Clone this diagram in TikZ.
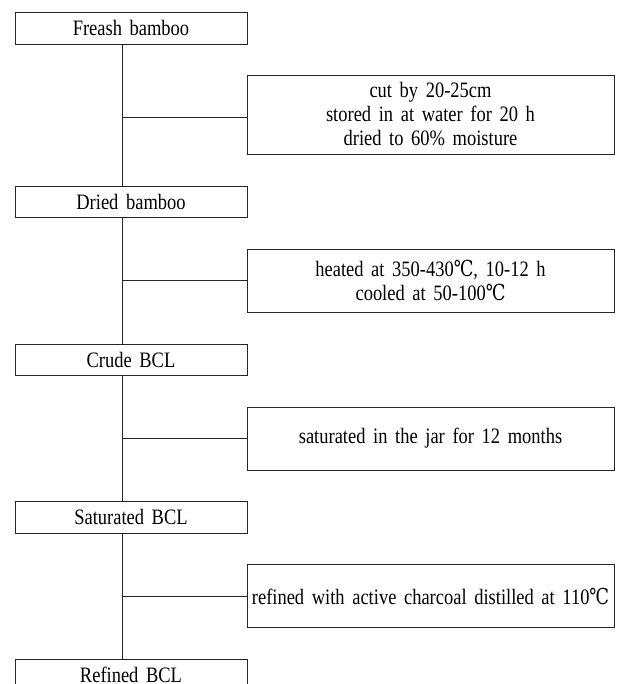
\documentclass[tikz,border=0pt]{standalone}
\usepackage{fontspec}
\setmainfont{Liberation Serif}[FakeStretch=0.84, WordSpace=1.65]
\newfontfamily\degfont{DejaVu Serif}[FakeStretch=0.8]
\newcommand{\degC}{{\degfont ℃}}
\usepackage{tikz}
\usetikzlibrary{shapes, arrows, arrows.meta}
\tikzstyle{product} = [rectangle, draw=black!85, line width=0.9pt, fill=white,
    minimum width=232pt, minimum height=31.5pt, inner sep=0pt, text centered]
\tikzstyle{process} = [rectangle, draw=black!85, line width=0.9pt, fill=white,
    minimum width=367pt, minimum height=63pt, inner sep=2pt, align=center]
\tikzstyle{line} = [draw=black!85, line width=0.9pt]

\begin{document}
\begin{tikzpicture}[x=1pt, y=-1pt, node distance = 157.7pt,
    font=\fontsize{22pt}{24pt}\selectfont]
    \useasboundingbox (0,0) rectangle (616,684);
    % Nodes
    \node [product] at (131,28.25) (fresh) {Freash bamboo};
    \node [product, below of=fresh, node distance=173.75pt] (dried) {Dried bamboo};
    \node [product, below of=dried] (crude) {Crude BCL};
    \node [product, below of=crude] (saturated) {Saturated BCL};
    \node [product, below of=saturated] (refined) {Refined BCL};
    \node [process, minimum height=79pt] at (430.5,114.5) (cutting)
        {cut by 20-25cm\\stored in at water for 20 h\\dried to 60\% moisture};
    \node [process] at (430.5,280.5) (heating)
        {heated at 350-430\degC, 10-12 h\\cooled at 50-100\degC};
    \node [process] at (430.5,438.5) (aging) {saturated in the jar for 12 months};
    \node [process] at (430.5,596) (refining)
        {refined with active charcoal distilled at 110\degC};
    \coordinate (trunk) at (122,0);
    % Edges
    \path [line] (fresh.south -| trunk) -- (dried.north -| trunk);
    \path [line] (dried.south -| trunk) -- (crude.north -| trunk);
    \path [line] (crude.south -| trunk) -- (saturated.north -| trunk);
    \path [line] (saturated.south -| trunk) -- (refined.north -| trunk);
    \path [line] ([yshift=-2.5pt]cutting.west -| trunk) -- ([yshift=-2.5pt]cutting.west);
    \path [line] (heating.west -| trunk) -- (heating.west);
    \path [line] (aging.west -| trunk) -- (aging.west);
    \path [line] (refining.west -| trunk) -- (refining.west);
\end{tikzpicture}
\end{document}
